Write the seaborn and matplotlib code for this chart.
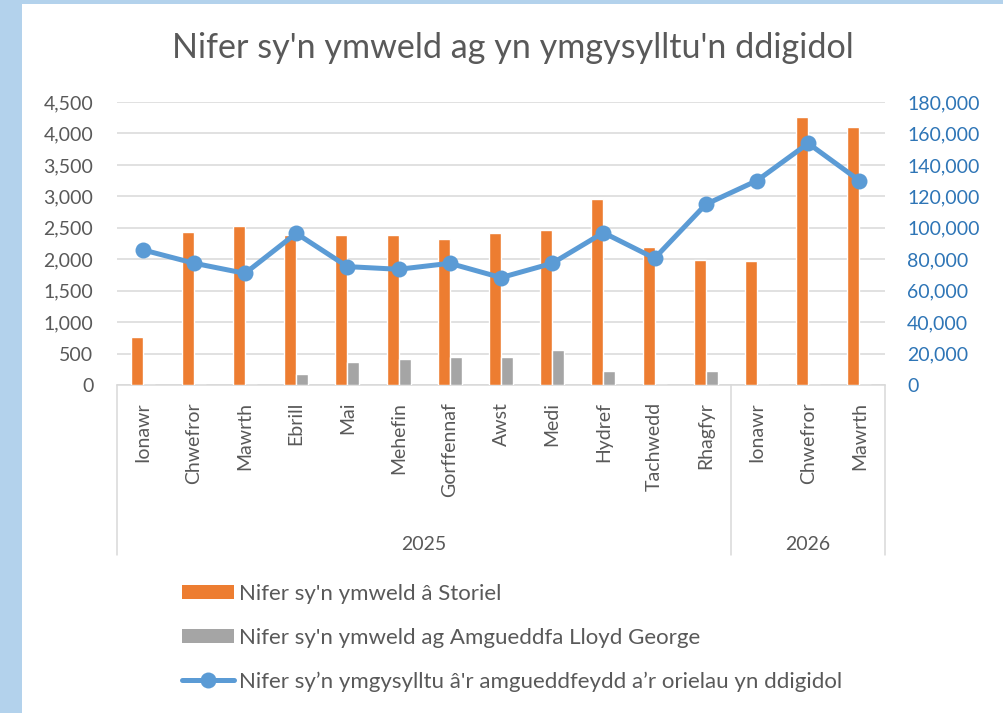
import numpy as np
import pandas as pd
import matplotlib
matplotlib.use("Agg")
import matplotlib.pyplot as plt
import matplotlib.transforms as mtransforms
from matplotlib.patches import Rectangle, Patch
from matplotlib.lines import Line2D
from matplotlib.ticker import FuncFormatter
import seaborn as sns

# ---------------- data ----------------
months = ["Ionawr", "Chwefror", "Mawrth", "Ebrill", "Mai", "Mehefin", "Gorffennaf",
          "Awst", "Medi", "Hydref", "Tachwedd", "Rhagfyr", "Ionawr", "Chwefror", "Mawrth"]
years = ["2025"] * 12 + ["2026"] * 3
year_labels = ["2025", "2026"]
storiel = [770, 2440, 2530, 2390, 2390, 2390, 2320, 2410, 2460, 2950, 2190, 1980, 1970, 4260, 4110]
lloyd_george = [0, 0, 0, 170, 360, 410, 450, 450, 560, 220, 0, 220, 0, 0, 0]
digital = [86000, 77500, 71000, 96500, 75300, 73600, 77400, 68300, 77400, 96900, 80600,
           114900, 130000, 153700, 130000]

title = "Nifer sy'n ymweld ag yn ymgysylltu'n ddigidol"
name_storiel = "Nifer sy'n ymweld â Storiel"
name_lg = "Nifer sy'n ymweld ag Amgueddfa Lloyd George"
name_digital = "Nifer sy’n ymgysylltu â'r amgueddfeydd a’r orielau yn ddigidol"

ORANGE = "#ED7D31"
GRAY = "#A5A5A5"
BLUE = "#5B9BD5"
BLUE_TXT = "#2E75B6"
TXT = "#595959"
GRID = "#D9D9D9"

keys = [f"{y}-{m}" for y, m in zip(years, months)]
df = pd.DataFrame({"key": keys * 2,
                   "value": storiel + lloyd_george,
                   "series": [name_storiel] * len(keys) + [name_lg] * len(keys)})

sns.set_theme(style="white")
plt.rcParams["font.family"] = ["Lato", "DejaVu Sans"]

W, H = 1004, 713
fig = plt.figure(figsize=(W / 100, H / 100), dpi=100)
fig.patch.set_facecolor("#B3D2EC")
fig.add_artist(Rectangle((22 / W, 0), 1, 1 - 4 / H, transform=fig.transFigure,
                         facecolor="white", edgecolor="none", zorder=-10))

L, R, T, B = 117, 885, 102, 385
ax = fig.add_axes([L / W, 1 - B / H, (R - L) / W, (B - T) / H])
ax.set_facecolor("none")

sns.barplot(data=df, x="key", y="value", hue="series", hue_order=[name_storiel, name_lg],
            palette=[ORANGE, GRAY], width=0.47, gap=0, saturation=1, legend=False,
            order=keys, ax=ax, zorder=3)
ax.set_xlim(-0.5, len(keys) - 0.5)
ax.set_ylim(0, 4500)
ax.set_yticks(np.arange(0, 4501, 500))
ax.yaxis.set_major_formatter(FuncFormatter(lambda v, p: f"{int(v):,}"))
ax.grid(axis="y", color=GRID, lw=1.1, zorder=0)
ax.grid(axis="x", visible=False)
ax.set_axisbelow(True)
for s in ["top", "right", "left"]:
    ax.spines[s].set_visible(False)
ax.spines["bottom"].set_color(GRID)
ax.spines["bottom"].set_linewidth(1.1)
ax.set_xticks([])
ax.set_xlabel("")
ax.set_ylabel("")
ax.tick_params(axis="y", length=0, pad=17, labelsize=14, labelcolor=TXT)

ax2 = ax.twinx()
sns.lineplot(x=np.arange(len(digital)), y=digital, ax=ax2, color=BLUE, lw=3.6,
             marker="o", markersize=11.5, markeredgewidth=0, zorder=5)
ax2.set_ylim(0, 180000)
ax2.set_yticks(np.arange(0, 180001, 20000))
ax2.yaxis.set_major_formatter(FuncFormatter(lambda v, p: f"{int(v):,}"))
ax2.tick_params(axis="y", length=0, pad=16, labelsize=14, labelcolor=BLUE_TXT)
for s in ax2.spines.values():
    s.set_visible(False)
ax2.grid(False)
ax2.set_ylabel("")

# multi-level category axis
ah = B - T
trans = mtransforms.blended_transform_factory(ax.transData, ax.transAxes)
for i, m in enumerate(months):
    ax.text(i, -17 / ah, m, transform=trans, rotation=90, ha="center", va="top",
            fontsize=14, color=TXT)
bottom = -(555 - B) / ah
bounds = [-0.5]
pos = 0
for y in year_labels:
    n = years.count(y)
    ax.text(pos - 0.5 + n / 2, -(544 - B) / ah, y, transform=trans, ha="center",
            va="center", fontsize=14, color=TXT)
    pos += n
    bounds.append(pos - 0.5)
for bx in bounds:
    ax.plot([bx, bx], [0, bottom], transform=trans, color=GRID, lw=1.1, clip_on=False)

fig.text(513 / W, 1 - 48 / H, title, ha="center", va="center", fontsize=24.6, color=TXT)

handles = [Patch(facecolor=ORANGE, edgecolor="none"),
           Patch(facecolor=GRAY, edgecolor="none"),
           Line2D([], [], color=BLUE, lw=3.6, marker="o", markersize=11.5, markeredgewidth=0)]
leg = fig.legend(handles, [name_storiel, name_lg, name_digital], loc="upper left",
                 bbox_to_anchor=(182 / W, 1 - 584 / H), frameon=False, fontsize=16,
                 handlelength=2.34, handleheight=0.63, handletextpad=0.22,
                 labelspacing=1.07, numpoints=1, borderaxespad=0, borderpad=0)
for t in leg.get_texts():
    t.set_color(TXT)

fig.savefig("out.png", dpi=100)
